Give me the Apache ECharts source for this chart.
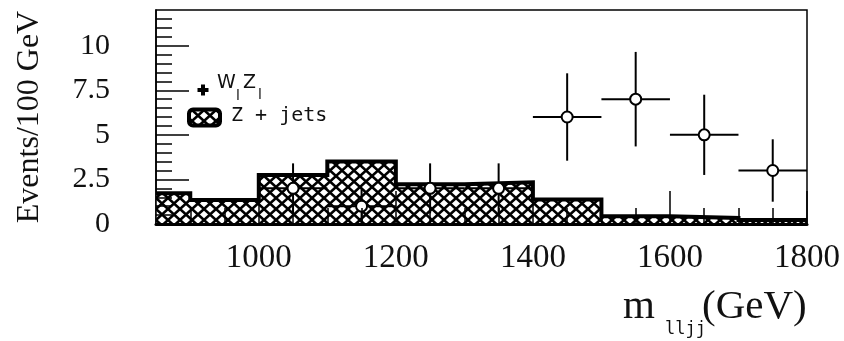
<!DOCTYPE html>
<html>
<head>
<meta charset="utf-8">
<script src="https://cdn.jsdelivr.net/npm/echarts@6/dist/echarts.min.js"></script>
<style>
  html, body { margin: 0; padding: 0; background: #fff; }
  #chart { width: 844px; height: 341px; }
</style>
</head>
<body>
<div id="chart"></div>
<script>
// Z + jets background: bin edges (GeV) and events per 100 GeV in each bin
const zjEdges = [850, 900, 1000, 1100, 1200, 1300, 1400, 1500, 1600, 1700, 1800];
const zjValues = [1.72, 1.35, 2.75, 3.5, 2.23, 2.34, 1.37, 0.43, 0.34, 0.22];

// W_l Z_l points: bin centres, contents and vertical errors
const wzMass = [1050, 1150, 1250, 1350, 1450, 1550, 1650, 1750];
const wzValues = [2, 1, 2, 2, 6, 7, 5, 3];
const wzErrors = [1.4, 1.0, 1.4, 1.4, 2.45, 2.65, 2.25, 1.75];
const wzBinWidth = 100;

// axis ticks and labels
const xMajorTicks = [1000, 1200, 1400, 1600, 1800];
const xMinorTicks = [900, 950, 1050, 1100, 1150, 1250, 1300, 1350, 1450, 1500, 1550, 1650, 1700, 1750];
const yMajorTicks = [0, 2.5, 5, 7.5, 10];
const yMinorTicks = [0.5, 1, 1.5, 2, 3, 3.5, 4, 4.5, 5.5, 6, 6.5, 7, 8, 8.5, 9, 9.5, 10.5, 11, 11.5];

// cross-hatch tile used for the Z + jets fill
function makeHatch() {
  const w = 12, h = 11;
  const c = document.createElement('canvas');
  c.width = w; c.height = h;
  const g = c.getContext('2d');
  g.fillStyle = '#fff';
  g.fillRect(0, 0, w, h);
  g.strokeStyle = '#000';
  g.lineWidth = 2.6;
  g.beginPath();
  g.moveTo(-w, -h); g.lineTo(2 * w, 2 * h);
  g.moveTo(2 * w, -h); g.lineTo(-w, 2 * h);
  g.stroke();
  return c;
}
const hatch = makeHatch();

// step outline: one point per lower bin edge, plus the closing edge
const zjStep = zjEdges.map((e, i) => [e, zjValues[Math.min(i, zjValues.length - 1)]]);
const wzData = wzMass.map((m, i) => [m, wzValues[i], wzErrors[i]]);

const serif = 'Liberation Serif';
const tickStyle = { color: '#000', width: 1.5 };
const plain = v => String(v);

const chart = echarts.init(document.getElementById('chart'), null, { renderer: 'canvas' });

chart.setOption({
  animation: false,
  backgroundColor: '#fff',
  grid: {
    left: 156, right: 37, top: 10, bottom: 117,
    show: true, borderColor: '#000', borderWidth: 1.5, backgroundColor: 'transparent'
  },
  xAxis: [
    {
      type: 'value', min: 850, max: 1800, position: 'bottom', z: 5,
      axisLine: { show: true, onZero: false, lineStyle: { color: '#000', width: 3 } },
      axisTick: { show: true, inside: true, length: 16, customValues: xMinorTicks, lineStyle: tickStyle },
      axisLabel: { customValues: xMajorTicks, formatter: plain, margin: 18, fontFamily: serif, fontSize: 33, color: '#111' },
      splitLine: { show: false }
    },
    {
      type: 'value', min: 850, max: 1800, position: 'bottom', z: 5,
      axisLine: { show: false },
      axisTick: { show: true, inside: true, length: 33, customValues: xMajorTicks, lineStyle: tickStyle },
      axisLabel: { show: false },
      splitLine: { show: false }
    }
  ],
  yAxis: [
    {
      type: 'value', min: 0, max: 12, position: 'left', z: 5,
      name: 'Events/100 GeV', nameLocation: 'middle', nameRotate: 90, nameGap: 110,
      nameTextStyle: { fontFamily: serif, fontSize: 32, color: '#111' },
      axisLine: { show: true, lineStyle: { color: '#000', width: 1.5 } },
      axisTick: { show: true, inside: true, length: 16, customValues: yMinorTicks, lineStyle: tickStyle },
      axisLabel: { customValues: yMajorTicks, formatter: plain, margin: 46, fontFamily: serif, fontSize: 30, color: '#111' },
      splitLine: { show: false }
    },
    {
      type: 'value', min: 0, max: 12, position: 'left', z: 5,
      axisLine: { show: false },
      axisTick: { show: true, inside: true, length: 33, customValues: yMajorTicks, lineStyle: tickStyle },
      axisLabel: { show: false },
      splitLine: { show: false }
    }
  ],
  series: [
    {
      name: 'Z + jets', type: 'line', step: 'end', data: zjStep,
      xAxisIndex: 0, yAxisIndex: 0, symbol: 'none', z: 2,
      lineStyle: { color: '#000', width: 4, join: 'miter' },
      areaStyle: { color: { image: hatch, repeat: 'repeat' }, opacity: 1 }
    },
    {
      name: 'W_l Z_l', type: 'custom', data: wzData,
      xAxisIndex: 0, yAxisIndex: 0, z: 4,
      encode: { x: 0, y: 1 },
      renderItem: function (params, api) {
        const x = api.value(0), y = api.value(1), e = api.value(2);
        const l = api.coord([x - wzBinWidth / 2, y]);
        const r = api.coord([x + wzBinWidth / 2, y]);
        const t = api.coord([x, y + e]);
        const b = api.coord([x, Math.max(0, y - e)]);
        const c = api.coord([x, y]);
        const ls = { stroke: '#000', lineWidth: 2 };
        return {
          type: 'group',
          children: [
            { type: 'line', shape: { x1: l[0], y1: l[1], x2: r[0], y2: r[1] }, style: ls },
            { type: 'line', shape: { x1: t[0], y1: t[1], x2: b[0], y2: b[1] }, style: ls },
            { type: 'circle', shape: { cx: c[0], cy: c[1], r: 5.5 }, style: { fill: '#fff', stroke: '#000', lineWidth: 2 } }
          ]
        };
      }
    }
  ],
  graphic: [
    // legend: W_l Z_l marker
    { type: 'rect', shape: { x: 197.5, y: 88, width: 11, height: 4 }, style: { fill: '#000' }, z: 10 },
    { type: 'rect', shape: { x: 201, y: 84.5, width: 4, height: 11 }, style: { fill: '#000' }, z: 10 },
    { type: 'text', x: 217, y: 83, style: { text: 'W', fontFamily: 'DejaVu Sans', fontSize: 19, fill: '#111', verticalAlign: 'middle' }, z: 10 },
    { type: 'text', x: 236, y: 96, style: { text: 'l', fontFamily: 'DejaVu Sans', fontSize: 14, fill: '#111', verticalAlign: 'middle' }, z: 10 },
    { type: 'text', x: 243, y: 83, style: { text: 'Z', fontFamily: 'DejaVu Sans', fontSize: 19, fill: '#111', verticalAlign: 'middle' }, z: 10 },
    { type: 'text', x: 258, y: 95, style: { text: 'l', fontFamily: 'DejaVu Sans', fontSize: 14, fill: '#111', verticalAlign: 'middle' }, z: 10 },
    // legend: Z + jets box
    { type: 'rect', shape: { x: 189, y: 109.5, width: 31, height: 16, r: 4 },
      style: { fill: { image: hatch, repeat: 'repeat' }, stroke: '#000', lineWidth: 4 }, z: 10 },
    { type: 'text', x: 231, y: 116, style: { text: 'Z + jets', fontFamily: 'DejaVu Sans Mono', fontSize: 20, fill: '#111', verticalAlign: 'middle' }, z: 10 },
    // x-axis title m_lljj (GeV)
    { type: 'text', x: 623, y: 307, style: { text: 'm', fontFamily: serif, fontSize: 41, fill: '#111', verticalAlign: 'middle' }, z: 10 },
    { type: 'text', x: 665, y: 330, style: { text: 'lljj', fontFamily: 'DejaVu Sans Mono', fontSize: 17, fill: '#111', verticalAlign: 'middle' }, z: 10 },
    { type: 'text', x: 702, y: 307, style: { text: '(GeV)', fontFamily: serif, fontSize: 41, fill: '#111', verticalAlign: 'middle' }, z: 10 }
  ]
});
</script>
</body>
</html>
